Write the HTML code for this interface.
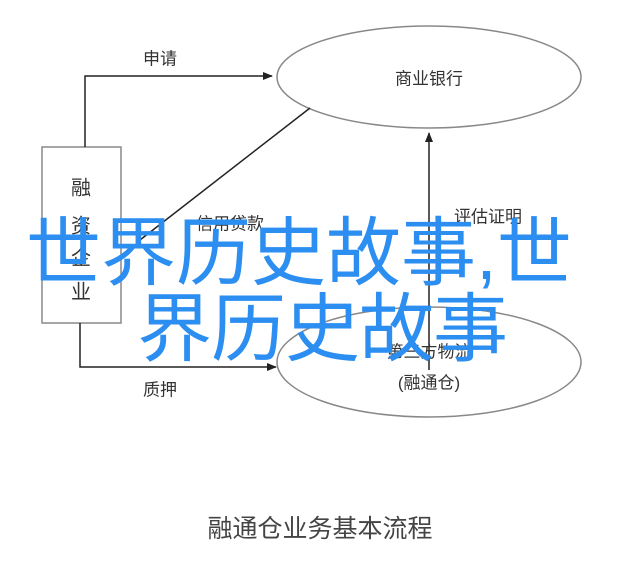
<!DOCTYPE html>
<html><head><meta charset="utf-8"><style>
html,body{margin:0;padding:0;background:#fff;}
body{width:640px;height:568px;position:relative;overflow:hidden;font-family:"Liberation Sans","Noto Sans CJK SC",sans-serif;}
.t{position:absolute;color:#333;font-size:17px;white-space:nowrap;transform:translate(-50%,-50%);}
.b{position:absolute;color:#2b8ef0;font-size:75px;white-space:nowrap;line-height:1;font-family:"Liberation Sans","Noto Sans CJK SC",sans-serif;}
</style></head><body>
<svg width="640" height="568" style="position:absolute;left:0;top:0">
<defs><marker id="a" markerWidth="10" markerHeight="8" refX="9" refY="4" orient="auto" markerUnits="userSpaceOnUse"><path d="M0,0 L10,4 L0,8 z" fill="#222"/></marker></defs>
<rect x="42" y="147" width="79" height="176" fill="none" stroke="#888" stroke-width="1.5"/>
<ellipse cx="429" cy="77" rx="152" ry="51" fill="none" stroke="#888" stroke-width="1.5"/>
<ellipse cx="429" cy="362" rx="152" ry="55" fill="none" stroke="#888" stroke-width="1.5"/>
<polyline points="85,147 85,76 272,76" fill="none" stroke="#222" stroke-width="1.5" marker-end="url(#a)"/>
<polyline points="80,323 80,367 276,367" fill="none" stroke="#222" stroke-width="1.5" marker-end="url(#a)"/>
<line x1="310" y1="108" x2="140" y2="240" stroke="#222" stroke-width="1.5"/>
<line x1="429" y1="370" x2="429" y2="133" stroke="#222" stroke-width="1.5" marker-end="url(#a)"/>
</svg>
<div class="t" style="left:160px;top:57px">申请</div>
<div class="t" style="left:429px;top:77px">商业银行</div>
<div class="t" style="left:81px;top:186px;font-size:20px">融</div>
<div class="t" style="left:81px;top:224px;font-size:20px">资</div>
<div class="t" style="left:81px;top:256px;font-size:20px">企</div>
<div class="t" style="left:81px;top:290px;font-size:20px">业</div>
<div class="t" style="left:230px;top:222px">信用贷款</div>
<div class="t" style="left:488px;top:215px">评估证明</div>
<div class="t" style="left:429px;top:350px">第三方物流</div>
<div class="t" style="left:429px;top:381px">(融通仓)</div>
<div class="t" style="left:160px;top:388px">质押</div>
<div class="t" style="left:320px;top:527px;font-size:25px;color:#444">融通仓业务基本流程</div>
<div class="b" style="left:26px;top:216px;letter-spacing:0px">世界历史故事,世</div>
<div class="b" style="left:137px;top:292px;letter-spacing:-1px">界历史故事</div>
</body></html>
